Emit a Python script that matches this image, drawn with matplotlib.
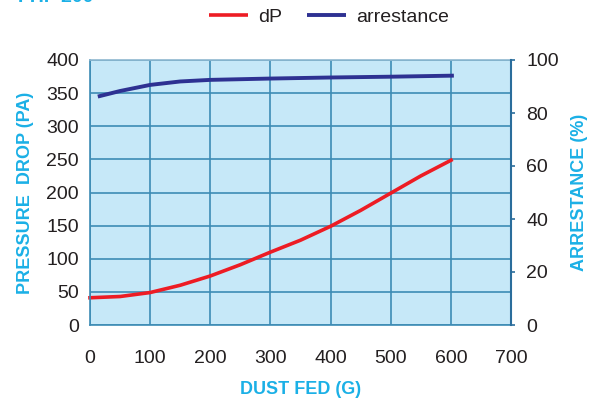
import numpy as np
import matplotlib.pyplot as plt

plt.rcParams['font.family'] = ['Liberation Sans', 'DejaVu Sans']

# dust fed (g) vs pressure drop (Pa)
dust_dp = [-3, 50, 100, 150, 200, 250, 300, 350, 400, 450, 500, 550, 603]
dp = [41, 43, 49, 60, 74, 91, 110, 128, 149, 173, 199, 225, 250]

# dust fed (g) vs arrestance (%)
dust_ar = [13, 50, 100, 150, 200, 300, 400, 500, 605]
arrestance = [86.2, 88.3, 90.6, 91.9, 92.5, 93.0, 93.4, 93.7, 94.1]

x_ticks = [0, 100, 200, 300, 400, 500, 600, 700]
left_ticks = [0, 50, 100, 150, 200, 250, 300, 350, 400]
right_ticks = [0, 20, 40, 60, 80, 100]

cyan = "#1bb0e6"
grid_c = "#3d8cb5"
bg = "#c6e8f8"
dark_spine = "#2a6d9c"
txt = "#231f20"

fig = plt.figure(figsize=(5.95, 4.01), dpi=100)
ax = fig.add_axes([90/595, 76/401, 421/595, 265/401])
ax.set_facecolor(bg)
ax.set_xlim(0, 700)
ax.set_ylim(0, 400)
ax.set_xticks(x_ticks)
ax.set_yticks(left_ticks)
ax.grid(True, color=grid_c, lw=1.2)
ax.set_axisbelow(True)
ax.tick_params(axis='both', length=0, labelsize=14, colors=txt)
ax.tick_params(axis='x', pad=18)
ax.tick_params(axis='y', pad=8)
for s in ax.spines.values():
    s.set_color("#8fb8d0")
    s.set_linewidth(1.2)
ax.spines['bottom'].set_color(grid_c)
ax.spines['left'].set_color(grid_c)

l1, = ax.plot(dust_dp, dp, color="#ed1c24", lw=2.6, solid_capstyle='butt',
              label="dP", clip_on=False)

ax2 = ax.twinx()
ax2.set_ylim(0, 100)
ax2.set_yticks(right_ticks)
ax2.tick_params(axis='y', length=3, width=1.2, color=dark_spine, labelsize=14,
                labelcolor=txt, pad=8)
ax2.spines['right'].set_color(dark_spine)
ax2.spines['right'].set_linewidth(1.5)
for k in ['top', 'left', 'bottom']:
    ax2.spines[k].set_visible(False)
l2, = ax2.plot(dust_ar, arrestance, color="#2e3192", lw=2.8, solid_capstyle='butt',
               label="arrestance")

ax.set_xlabel("DUST FED (G)", color=cyan, fontsize=13, fontweight='bold')
ax.xaxis.set_label_coords(0.5, -0.21)
ax.set_ylabel("PRESSURE  DROP (PA)", color=cyan, fontsize=13, fontweight='bold')
ax.yaxis.set_label_coords(-0.133, 0.5)
ax2.set_ylabel("ARRESTANCE (%)", color=cyan, fontsize=13, fontweight='bold')
ax2.yaxis.set_label_coords(1.143, 0.5)

fig.legend(handles=[l1, l2], loc='center', bbox_to_anchor=(0.553, 0.957), ncol=2,
           frameon=False, fontsize=14, handlelength=2.0, handletextpad=0.5,
           columnspacing=1.3, labelcolor=txt)

fig.text(0.03, 0.995, "FHF 200", color=cyan, fontsize=14, fontweight='bold',
         va='baseline', ha='left')

fig.savefig("out.png", dpi=100)
